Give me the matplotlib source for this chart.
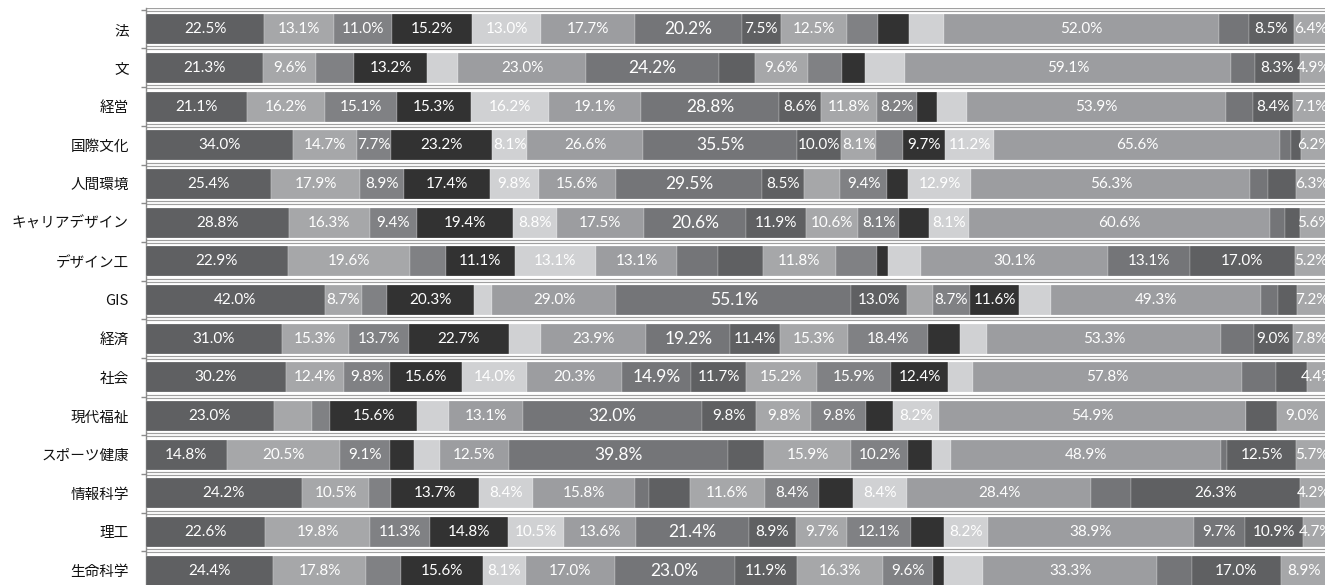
import matplotlib
matplotlib.use("Agg")
import matplotlib.pyplot as plt
import numpy as np

plt.rcParams['font.family'] = ['Noto Sans CJK JP', 'DejaVu Sans']

# 学部（上から順に）
categories = ["法", "文", "経営", "国際文化", "人間環境", "キャリアデザイン", "デザイン工",
              "GIS", "経済", "社会", "現代福祉", "スポーツ健康", "情報科学", "理工", "生命科学"]

# 各学部の回答率 (%)：16項目、複数回答なので合計は100を超える
hou     = [22.5, 13.1, 11.0, 15.2, 13.0, 17.7, 20.2, 7.5, 12.5, 5.9, 5.7, 6.6, 52.0, 5.7, 8.5, 6.4]
bun     = [21.3, 9.6, 6.9, 13.2, 5.6, 23.0, 24.2, 6.4, 9.6, 6.1, 4.3, 7.1, 59.1, 4.2, 8.3, 4.9]
keiei   = [21.1, 16.2, 15.1, 15.3, 16.2, 19.1, 28.8, 8.6, 11.8, 8.2, 4.2, 6.2, 53.9, 5.6, 8.4, 7.1]
kokusai = [34.0, 14.7, 7.7, 23.2, 8.1, 26.6, 35.5, 10.0, 8.1, 6.2, 9.7, 11.2, 65.6, 2.7, 2.1, 6.2]
ningen  = [25.4, 17.9, 8.9, 17.4, 9.8, 15.6, 29.5, 8.5, 7.3, 9.4, 4.2, 12.9, 56.3, 3.6, 5.7, 6.3]
career  = [28.8, 16.3, 9.4, 19.4, 8.8, 17.5, 20.6, 11.9, 10.6, 8.1, 6.0, 8.1, 60.6, 2.9, 3.0, 5.6]
design  = [22.9, 19.6, 5.8, 11.1, 13.1, 13.1, 6.6, 7.1, 11.8, 6.6, 1.8, 5.3, 30.1, 13.1, 17.0, 5.2]
gis     = [42.0, 8.7, 5.9, 20.3, 4.4, 29.0, 55.1, 13.0, 6.1, 8.7, 11.6, 7.3, 49.3, 4.1, 4.3, 7.2]
keizai  = [31.0, 15.3, 13.7, 22.7, 7.4, 23.9, 19.2, 11.4, 15.3, 18.4, 7.3, 6.1, 53.3, 7.4, 9.0, 7.8]
shakai  = [30.2, 12.4, 9.8, 15.6, 14.0, 20.3, 14.9, 11.7, 15.2, 15.9, 12.4, 5.2, 57.8, 7.3, 6.7, 4.4]
gendai  = [23.0, 6.7, 3.3, 15.6, 5.7, 13.1, 32.0, 9.8, 9.8, 9.8, 4.8, 8.2, 54.9, 0.0, 5.6, 9.0]
sports  = [14.8, 20.5, 9.1, 4.4, 4.6, 12.5, 39.8, 6.5, 15.9, 10.2, 4.5, 3.4, 48.9, 1.2, 12.5, 5.7]
joho    = [24.2, 10.5, 3.3, 13.7, 8.4, 15.8, 2.1, 6.4, 11.6, 8.4, 5.3, 8.4, 28.4, 6.2, 26.3, 4.2]
riko    = [22.6, 19.8, 11.3, 14.8, 10.5, 13.6, 21.4, 8.9, 9.7, 12.1, 6.2, 8.2, 38.9, 9.7, 10.9, 4.7]
seimei  = [24.4, 17.8, 6.7, 15.6, 8.1, 17.0, 23.0, 11.9, 16.3, 9.6, 2.2, 7.4, 33.3, 6.6, 17.0, 8.9]

rows = [hou, bun, keiei, kokusai, ningen, career, design, gis,
        keizai, shakai, gendai, sports, joho, riko, seimei]

# 7色のグレーを順に繰り返す
colors = ["#5f6062", "#a6a7a9", "#808184", "#323232", "#d0d1d3", "#9c9da0", "#747578"]

fig = plt.figure(figsize=(13.25, 5.85), dpi=100)
# プロット領域は右端・下端で少し切れている
ax = fig.add_axes([145.5 / 1325, 1 - 590 / 585, 1182 / 1325, (590 - 7.5) / 585])

data = np.array(rows)
share = data / data.sum(axis=1, keepdims=True) * 100   # 100%積み上げ
y = np.arange(len(categories))
left = np.zeros(len(categories))
nseg = data.shape[1]

for j in range(nseg):
    ax.barh(y, share[:, j], left=left, height=0.775, color=colors[j % 7],
            edgecolor='white', linewidth=0.15, zorder=3)
    for i in range(len(categories)):
        v = data[i, j]
        if v >= 7.5 or j == nseg - 1:
            ax.text(left[i] + share[i, j] / 2, y[i], f"{v:.1f}%",
                    ha='center', va='center', color='white',
                    fontsize=12.5 if j == 6 else 11,
                    family=['Lato', 'DejaVu Sans'], zorder=4)
    left += share[:, j]

ax.set_xlim(0, 100)
ax.set_ylim(len(categories) - 0.5, -0.56)

ax.set_yticks(y)
ax.set_yticklabels(categories, fontsize=10.5, color='#111111')
ax.set_yticks(np.arange(-0.5, len(categories), 1), minor=True)
ax.tick_params(axis='y', which='major', length=0, pad=12)
ax.tick_params(axis='y', which='minor', length=3.6, width=1.0, color='#8c8c8c', direction='out')
ax.set_xticks([])

# 区切り線（二重線風）
ax.grid(axis='y', which='minor', color='#a0a0a0', linewidth=3.0, zorder=1)
ax.grid(axis='y', which='major', visible=False)
for yb in ax.get_yticks(minor=True):
    ax.axhline(yb, color='white', linewidth=1.3, zorder=2)

for s in ['top', 'right', 'bottom']:
    ax.spines[s].set_visible(False)
ax.spines['left'].set_color('#8c8c8c')
ax.spines['left'].set_linewidth(1.0)
ax.set_axisbelow(True)

fig.savefig("out.png", dpi=100)
